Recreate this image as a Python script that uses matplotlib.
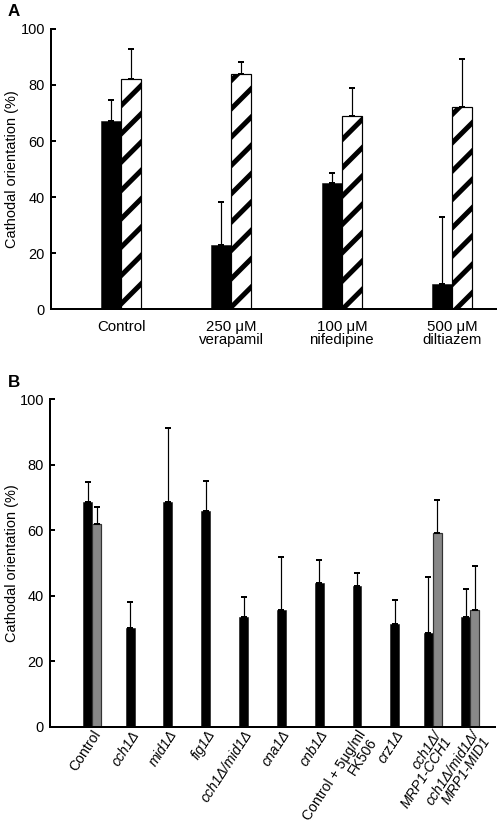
import numpy as np
import matplotlib
matplotlib.use('Agg')
import matplotlib.pyplot as plt

DPI = 170
plt.rcParams['font.family'] = ['Liberation Sans', 'DejaVu Sans']
plt.rcParams['hatch.linewidth'] = 2.1
plt.rcParams['hatch.color'] = 'black'

# --- panel A data ---
a_groups = ['Control', '250 μM\nverapamil', '100 μM\nnifedipine', '500 μM\ndiltiazem']
a_solid = [67, 23, 45, 9]
a_solid_err = [7.6, 15.1, 3.4, 24]
a_hatch = [82, 84, 69, 72]
a_hatch_err = [10.9, 4.1, 10, 17.3]

# --- panel B data ---
b_labels = ['Control', 'cch1Δ', 'mid1Δ', 'fig1Δ', 'cch1Δ/mid1Δ', 'cna1Δ', 'cnb1Δ',
            'Control + 5μg/ml\nFK506', 'crz1Δ', 'cch1Δ/\nMRP1-CCH1',
            'cch1Δ/mid1Δ/\nMRP1-MID1']
b_italic = [False, True, True, True, True, True, True, False, True, True, True]
b_black = [68.5, 30, 68.5, 66, 33.5, 35.5, 44, 43, 31.5, 28.5, 33.5]
b_black_err = [6.2, 8, 22.6, 9, 6, 16.2, 7, 3.9, 7.2, 17.2, 8.6]
b_grey_idx = [0, 9, 10]
b_grey = [62, 59.3, 35.6]
b_grey_err = [5.2, 9.8, 13.5]

px = 72 / DPI  # points per pixel
fig = plt.figure(figsize=(498 / DPI, 832 / DPI), dpi=DPI)


def style_axes(ax, left_px):
    for s in ['top', 'right']:
        ax.spines[s].set_visible(False)
    for s in ['left', 'bottom']:
        ax.spines[s].set_linewidth(2 * px)
    ax.set_ylim(0, 100)
    ax.set_yticks([0, 20, 40, 60, 80, 100])
    ax.tick_params(axis='y', direction='in', length=5 * px, width=2 * px,
                   labelsize=14.5 * px, pad=2.6)
    ax.tick_params(axis='x', length=0)
    ax.set_ylabel('Cathodal orientation (%)', fontsize=14.5 * px)
    w = ax.get_position().width * 498
    ax.yaxis.set_label_coords((19 - left_px) / w, 0.5)


err_kw = dict(elinewidth=1.2 * px, capsize=3 * px, capthick=2 * px, ecolor='black')

# ---------------- panel A ----------------
axA = fig.add_axes([51 / 498, 1 - 309 / 832, 446 / 498, 280 / 832])
xa = np.arange(len(a_groups))
wa = 0.181
axA.bar(xa - wa / 2, a_solid, wa, color='black', edgecolor='black', linewidth=0.5 * px,
        yerr=[np.zeros(len(xa)), a_solid_err], error_kw=err_kw)
axA.bar(xa + wa / 2, a_hatch, wa, color='white', edgecolor='black', linewidth=1.2 * px,
        hatch='//', yerr=[np.zeros(len(xa)), a_hatch_err], error_kw=err_kw)
axA.set_xlim(-0.634, 3.405)
style_axes(axA, 51)
axA.set_xticks(xa)
axA.set_xticklabels(a_groups, fontsize=15 * px, linespacing=0.95)
axA.tick_params(axis='x', pad=4.5)

# ---------------- panel B ----------------
axB = fig.add_axes([50 / 498, 1 - 726.7 / 832, 445 / 498, 327.4 / 832])
xb = np.arange(len(b_labels))
wb = 0.238
off = np.where(np.isin(xb, b_grey_idx), -wb / 2, 0.0)
axB.bar(xb + off, b_black, wb, color='black', edgecolor='black', linewidth=0.5 * px,
        yerr=[np.zeros(len(xb)), b_black_err], error_kw=err_kw)
gx = np.array(b_grey_idx) + wb / 2
axB.bar(gx, b_grey, wb, color='#888888', edgecolor='#333333', linewidth=1.2 * px,
        yerr=[np.zeros(len(gx)), b_grey_err], error_kw=err_kw)
axB.set_xlim(-1.12, 10.65)
style_axes(axB, 50)
axB.set_xticks(xb)
axB.set_xticklabels(b_labels, fontsize=14 * px, rotation=57, ha='right', va='top',
                    rotation_mode='anchor', linespacing=0.88)
for lab, it in zip(axB.get_xticklabels(), b_italic):
    if it:
        lab.set_fontstyle('italic')
axB.tick_params(axis='x', pad=0.6)

fig.text(8 / 498, 1 - 12 / 832, 'A', fontsize=17 * px, fontweight='bold', va='center', ha='left')
fig.text(8 / 498, 1 - 382 / 832, 'B', fontsize=17 * px, fontweight='bold', va='center', ha='left')

fig.savefig('out.png', dpi=DPI)
